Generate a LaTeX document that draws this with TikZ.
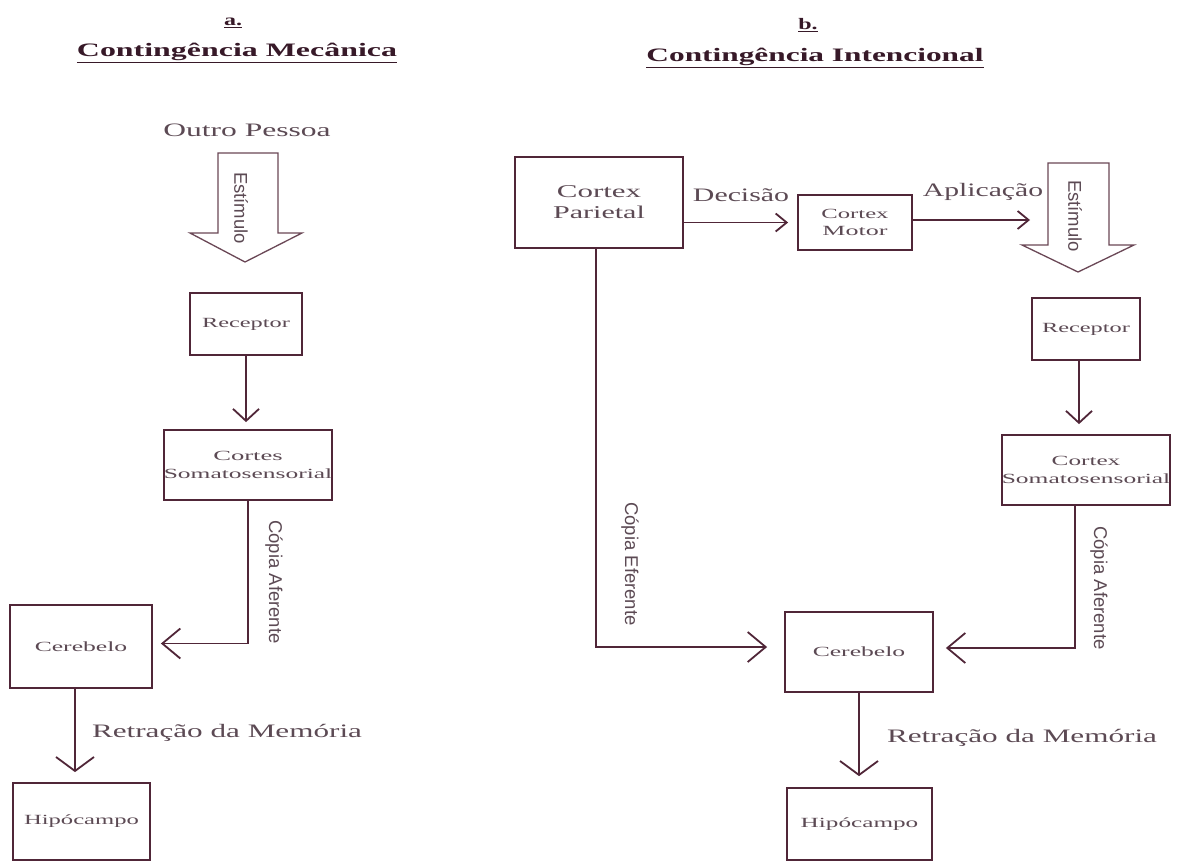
\documentclass[tikz,border=0pt]{standalone}
\usepackage{graphicx}
\usepackage{fontspec}
\setmainfont{Liberation Serif}
\newfontfamily\vsans{Liberation Sans}
\usetikzlibrary{arrows.meta}
\definecolor{ink}{RGB}{80,38,56}
\definecolor{txt}{RGB}{92,74,84}
\definecolor{ttl}{RGB}{55,25,40}
\newcommand{\hs}[3]{\scalebox{#1}[1]{\fontsize{#2}{#2}\selectfont #3}}
\tikzset{
  x=1pt, y=-1pt,
  box/.style={draw=ink, line width=1.8pt, inner sep=0pt, text=txt, align=center,
    font=\fontsize{14}{18}\selectfont},
  lbl/.style={text=txt, inner sep=0pt},
  ttlbl/.style={text=ttl, inner sep=0pt},
  vlbl/.style={text=txt, inner sep=0pt, rotate=-90, font=\vsans\fontsize{18.5}{20}\selectfont},
  conn/.style={draw=ink, line width=1.8pt},
  arrBig/.style={conn, -{Straight Barb[length=18pt,width=30pt]}},
  arrRet/.style={conn, -{Straight Barb[length=14pt,width=38pt]}},
  arrMid/.style={conn, -{Straight Barb[length=12pt,width=26pt]}},
  arrSm/.style={conn, -{Straight Barb[length=11pt,width=18pt]}},
  blk/.style={draw=ink!85, line width=1.3pt, fill=white, line join=miter},
}
\begin{document}
\begin{tikzpicture}
\useasboundingbox[fill=white] (0,0) rectangle (1180,862);

% ---------- titles ----------
\node[ttlbl] (ha) at (233,23) {\hs{1.5}{16}{\bfseries\underline{a.}}};
\node[ttlbl] (ta) at (237,53) {\hs{1.68}{19}{\bfseries\underline{Contingência Mecânica}}};
\node[ttlbl] (hb) at (808,25) {\hs{1.5}{16}{\bfseries\underline{b.}}};
\node[ttlbl] (tb) at (815,58) {\hs{1.65}{19}{\bfseries\underline{Contingência Intencional}}};

% ---------- panel a ----------
\node[lbl] (outro) at (247,130) {\hs{1.66}{19}{Outro Pessoa}};
\draw[blk] (218,153) -- (278,153) -- (278,233) -- (302,233) -- (245,262) -- (190,233) -- (218,233) -- cycle;
\node[vlbl] (estA) at (241,208) {Estímulo};

\node[box, minimum width=112pt, minimum height=62pt] (recA) at (246,324) {\hs{1.74}{14}{Receptor}};
\node[box, minimum width=112pt, minimum height=70pt] (somA) at (248,465)
  {\hs{1.9}{14}{Cortes}\\\hs{1.82}{14}{Somatosensorial}};
\node[box, minimum width=142pt, minimum height=83pt] (cerA) at (81,646.5) {\hs{1.83}{14}{Cerebelo}};
\node[box, minimum width=137pt, minimum height=77pt] (hipA) at (81.5,821.5) {\hs{1.76}{14}{Hipócampo}};

\draw[arrMid, shorten >=7pt] (recA.south) -- (recA.south |- somA.north);
\draw[arrBig, shorten >=8pt] (somA.south) |- ([yshift=3pt]cerA.east);
\node[vlbl] (cafA) at (274,582) {Cópia Aferente};
\draw[arrRet, shorten >=10pt] ([xshift=-6pt]cerA.south) -- ([xshift=-6pt]cerA.south |- hipA.north);
\node[lbl] (retA) at (227,733) {\hs{1.64}{19}{Retração da Memória}};

% ---------- panel b ----------
\node[box, minimum width=168pt, minimum height=91pt, font=\fontsize{18}{21}\selectfont] (par) at (599,202.5)
  {\hs{1.72}{18}{Cortex}\\\hs{1.67}{18}{Parietal}};
\node[box, minimum width=114pt, minimum height=55pt, font=\fontsize{14}{17}\selectfont] (mot) at (855,222.5)
  {\hs{1.76}{14}{Cortex}\\\hs{1.86}{14}{Motor}};
\draw[arrSm, shorten >=9pt] (par.east |- mot.west) -- (mot.west);
\node[lbl] (dec) at (741,195) {\hs{1.57}{19}{Decisão}};

\coordinate (apl) at (1030,220);
\draw[arrSm] (mot.east |- apl) -- (apl);
\node[lbl] (aplt) at (983,192) {\hs{1.56}{19}{Aplicação}};

\draw[blk] (1048,163) -- (1109,163) -- (1109,245) -- (1134,245) -- (1078,272) -- (1022,245) -- (1048,245) -- cycle;
\node[vlbl] (estB) at (1075,216) {Estímulo};

\node[box, minimum width=108pt, minimum height=62pt] (recB) at (1086,329) {\hs{1.74}{14}{Receptor}};
\node[box, minimum width=108pt, minimum height=70pt] (somB) at (1086,470)
  {\hs{1.8}{14}{Cortex}\\\hs{1.82}{14}{Somatosensorial}};
\draw[arrMid, shorten >=10pt] ([xshift=-7pt]recB.south) -- ([xshift=-7pt]recB.south |- somB.north);

\node[box, minimum width=148pt, minimum height=80pt] (cerB) at (859,652) {\hs{1.83}{14}{Cerebelo}};
\node[box, minimum width=145pt, minimum height=72pt] (hipB) at (859.5,824) {\hs{1.8}{14}{Hipócampo}};

\draw[arrBig, shorten >=12pt] ([xshift=-11pt]somB.south) |- ([yshift=4pt]cerB.east);
\node[vlbl] (cafB) at (1099,588) {Cópia Aferente};
\draw[arrBig, shorten >=17pt] ([xshift=-3pt]par.south) |- ([yshift=5pt]cerB.west);
\node[vlbl] (cef) at (630,564) {Cópia Eferente};
\draw[arrRet, shorten >=11pt] (cerB.south) -- (cerB.south |- hipB.north);
\node[lbl] (retB) at (1022,738) {\hs{1.64}{19}{Retração da Memória}};
\end{tikzpicture}
\end{document}
